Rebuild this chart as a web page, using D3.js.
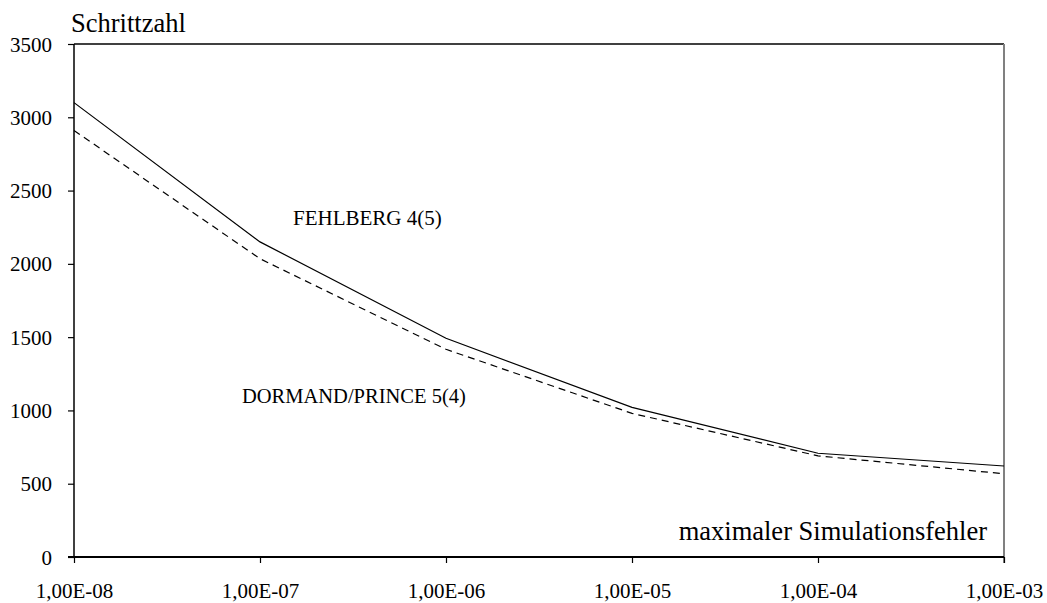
<!DOCTYPE html>
<html>
<head>
<meta charset="utf-8">
<script src="https://cdn.jsdelivr.net/npm/d3@7"></script>
<style>
  html, body { margin: 0; padding: 0; background: #fff; }
  svg text { font-family: "Liberation Serif", "Times New Roman", serif !important; fill: #000; }
</style>
</head>
<body>
<svg id="chart" width="1047" height="603" font-family="Liberation Serif"></svg>
<script>
// Step counts of two embedded Runge-Kutta methods vs. maximum simulation error
const categories = ["1,00E-08", "1,00E-07", "1,00E-06", "1,00E-05", "1,00E-04", "1,00E-03"];
const fehlberg = [3100, 2150, 1492, 1021, 708, 621];
const dormandPrince = [2910, 2035, 1417, 980, 690, 568];
const yTicks = [0, 500, 1000, 1500, 2000, 2500, 3000, 3500];

const serif = "'Liberation Serif', 'Times New Roman', serif";
const svg = d3.select("#chart");
const plotLeft = 74, plotRight = 1004, plotTop = 44, plotBottom = 557;

const x = d3.scalePoint().domain(categories).range([plotLeft, plotRight]).padding(0);
const y = d3.scaleLinear().domain([0, 3500]).range([plotBottom, plotTop]);

// plot frame: top black, right grey
svg.append("line").attr("x1", plotLeft).attr("x2", plotRight).attr("y1", plotTop).attr("y2", plotTop)
  .attr("stroke", "#000").attr("stroke-width", 1.5);
svg.append("line").attr("x1", plotRight).attr("x2", plotRight).attr("y1", plotTop).attr("y2", plotBottom + 6)
  .attr("stroke", "#808080").attr("stroke-width", 2);

// y axis
const yAxis = svg.append("g").attr("transform", `translate(${plotLeft},0)`)
  .call(d3.axisLeft(y).tickValues(yTicks).tickSize(6).tickPadding(16).tickFormat(d3.format("d")))
  .attr("font-family", serif);
yAxis.select(".domain").attr("stroke", "#000").attr("stroke-width", 1.5).attr("d", `M0,${plotTop}V${plotBottom}`);
yAxis.selectAll(".tick line").attr("stroke", "#000").attr("stroke-width", 1.2);
yAxis.selectAll(".tick text").style("font-family", serif).attr("font-size", "21px").attr("dy", "0.34em");

// x axis
const xAxis = svg.append("g").attr("transform", `translate(0,${plotBottom})`)
  .call(d3.axisBottom(x).tickSize(6).tickPadding(0))
  .attr("font-family", serif);
xAxis.select(".domain").attr("stroke", "#000").attr("stroke-width", 2).attr("d", `M${plotLeft - 6},0H${plotRight}`);
xAxis.selectAll(".tick line").attr("stroke", "#000").attr("stroke-width", 1.2);
xAxis.selectAll(".tick text").style("font-family", serif).attr("font-size", "21px")
  .attr("y", 41).attr("dy", 0);

// series lines
const line = d3.line().x((d, i) => x(categories[i])).y(d => y(d));
svg.append("path").datum(fehlberg).attr("d", line)
  .attr("fill", "none").attr("stroke", "#000").attr("stroke-width", 1.2);
svg.append("path").datum(dormandPrince).attr("d", line)
  .attr("fill", "none").attr("stroke", "#000").attr("stroke-width", 1.2)
  .attr("stroke-dasharray", "7,5");

// axis titles
svg.append("text").attr("x", 71).attr("y", 32).attr("font-size", "26.5px").text("Schrittzahl");
svg.append("text").attr("x", 987).attr("y", 540).attr("text-anchor", "end")
  .attr("font-size", "26.5px").text("maximaler Simulationsfehler");

// series labels
svg.append("text").attr("x", 293).attr("y", 225).attr("font-size", "21px").text("FEHLBERG 4(5)");
svg.append("text").attr("x", 242).attr("y", 403).attr("font-size", "20.5px").text("DORMAND/PRINCE 5(4)");
</script>
</body>
</html>
